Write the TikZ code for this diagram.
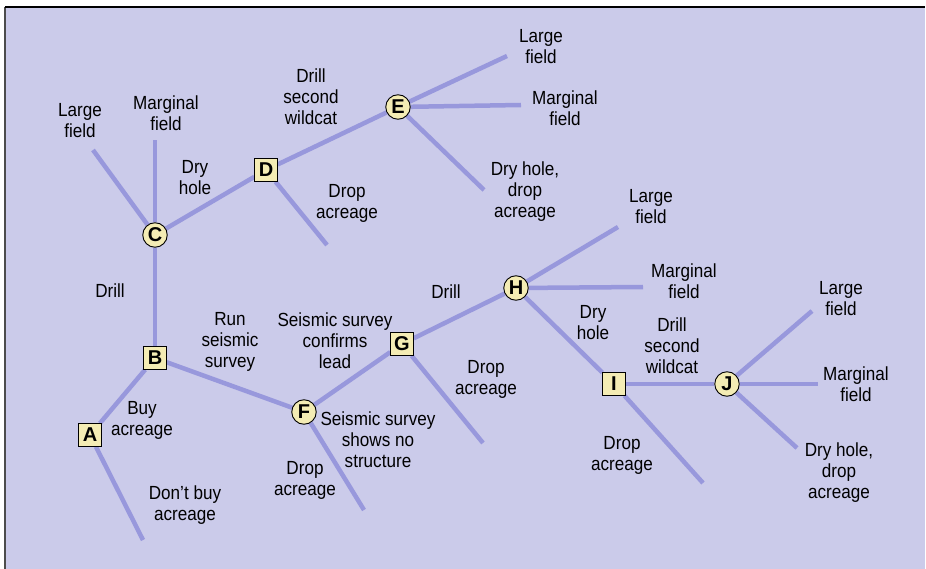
\documentclass[tikz,border=0pt]{standalone}
\usepackage{fontspec}
\setmainfont{Liberation Sans}[FakeStretch=0.9]
\newfontfamily\knotfont{Liberation Sans}
\usetikzlibrary{backgrounds}
\definecolor{panel}{HTML}{CBCBEA}
\definecolor{branch}{HTML}{9898DC}
\definecolor{knot}{HTML}{F4ECB4}
\tikzset{
  decision/.style={draw=black, line width=0.9pt, fill=knot, rectangle, minimum size=22.5pt, inner sep=0pt, font=\knotfont\bfseries\fontsize{20}{20}\selectfont},
  chance/.style={draw=black, line width=0.9pt, fill=knot, circle, minimum size=24.5pt, inner sep=0pt, font=\knotfont\bfseries\fontsize{20}{20}\selectfont},
  lbl/.style={align=center, inner sep=0pt, font=\fontsize{19}{21}\selectfont},
  limb/.style={draw=branch, line width=4.5pt}
}
\begin{document}
\begin{tikzpicture}[x=1pt, y=-1pt]
\useasboundingbox (0,0) rectangle (926,569);

% decision and chance points
\node[decision] (A) at (90,435) {A};
\node[decision] (B) at (155,358) {B};
\node[chance]   (C) at (155,235) {C};
\node[decision] (D) at (266,170) {D};
\node[chance]   (E) at (398,107) {E};
\node[chance]   (F) at (304,412) {F};
\node[decision] (G) at (402,344) {G};
\node[chance]   (H) at (516,288) {H};
\node[decision] (I) at (614,384) {I};
\node[chance]   (J) at (727,384) {J};

% loose ends of the outcome branches
\coordinate (a1) at (143,540);
\coordinate (c1) at (93,150);
\coordinate (c2) at (155,140);
\coordinate (d1) at (327,245);
\coordinate (e1) at (507,56);
\coordinate (e2) at (521,105);
\coordinate (e3) at (484,190);
\coordinate (f1) at (364,510);
\coordinate (g1) at (483,443);
\coordinate (h1) at (618,227);
\coordinate (h2) at (643,287);
\coordinate (i1) at (703,483);
\coordinate (j1) at (812,311);
\coordinate (j2) at (818,384);
\coordinate (j3) at (797,448);

\begin{scope}[on background layer]
% panel with its frame
\fill[panel] (5,7) rectangle (925,569);
\draw[black!70, line width=1.6pt] (5,569) -- (5,7);
\draw[black, line width=1.2pt] (5,7) -- (925,7);
% tree branches
\draw[limb] (A) -- (B);
\draw[limb] (A) -- (a1);
\draw[limb] (B) -- (C);
\draw[limb] (B) -- (F);
\draw[limb] (C) -- (c1);
\draw[limb] (C) -- (c2);
\draw[limb] (C) -- (D);
\draw[limb] (D) -- (E);
\draw[limb] (D) -- (d1);
\draw[limb] (E) -- (e1);
\draw[limb] (E) -- (e2);
\draw[limb] (E) -- (e3);
\draw[limb] (F) -- (G);
\draw[limb] (F) -- (f1);
\draw[limb] (G) -- (H);
\draw[limb] (G) -- (g1);
\draw[limb] (H) -- (h1);
\draw[limb] (H) -- (h2);
\draw[limb] (H) -- (I);
\draw[limb] (I) -- (J);
\draw[limb] (I) -- (i1);
\draw[limb] (J) -- (j1);
\draw[limb] (J) -- (j2);
\draw[limb] (J) -- (j3);
\end{scope}

% branch labels
\node[lbl] (tC1) at (80,121) {Large\\field};
\node[lbl] (tC2) at (166,113) {Marginal\\field};
\node[lbl] (tCD) at (195,178) {Dry\\hole};
\node[lbl] (tBC) at (110,291) {Drill};
\node[lbl] (tDE) at (311,97) {Drill\\second\\wildcat};
\node[lbl] (tD1) at (347,203) {Drop\\acreage};
\node[lbl] (tE1) at (541,47) {Large\\field};
\node[lbl] (tE2) at (565,108) {Marginal\\field};
\node[lbl] (tE3) at (525,192) {Dry hole,\\drop\\acreage};
\node[lbl] (tBF) at (230,342) {Run\\seismic\\survey};
\node[lbl] (tAB) at (142,420) {Buy\\acreage};
\node[lbl] (tA1) at (185,505) {Don't buy\\acreage};
\node[lbl] (tFG) at (335,341) {Seismic survey\\confirms\\lead};
\node[lbl] (tF1) at (378,440) {Seismic survey\\shows no\\structure};
\node[lbl] (tF2) at (305,480) {Drop\\acreage};
\node[lbl] (tGH) at (446,292) {Drill};
\node[lbl] (tG1) at (486,379) {Drop\\acreage};
\node[lbl] (tH1) at (651,207) {Large\\field};
\node[lbl] (tH2) at (684,281) {Marginal\\field};
\node[lbl] (tHI) at (593,323) {Dry\\hole};
\node[lbl] (tIJ) at (672,346) {Drill\\second\\wildcat};
\node[lbl] (tI1) at (622,455) {Drop\\acreage};
\node[lbl] (tJ1) at (841,299) {Large\\field};
\node[lbl] (tJ2) at (856,384) {Marginal\\field};
\node[lbl] (tJ3) at (839,473) {Dry hole,\\drop\\acreage};
\end{tikzpicture}
\end{document}
